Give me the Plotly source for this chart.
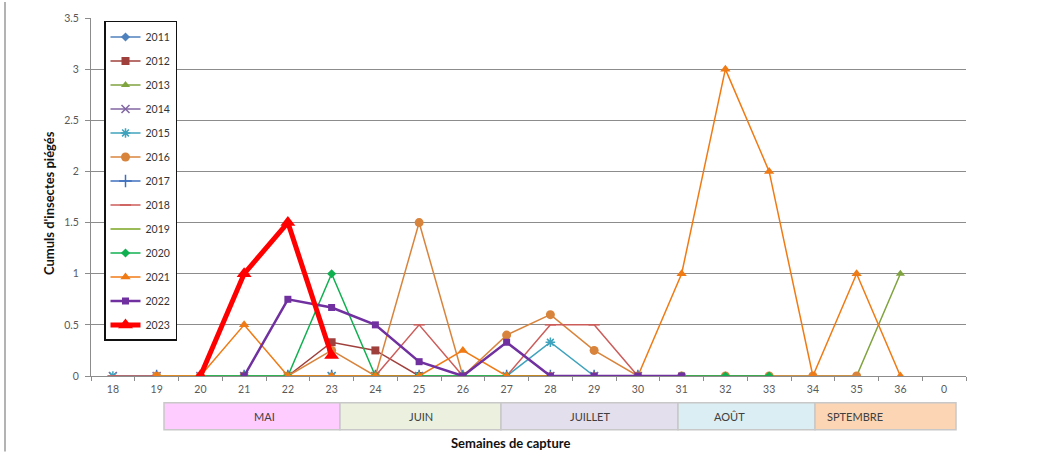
import plotly.graph_objects as go

weeks = ["18", "19", "20", "21", "22", "23", "24", "25", "26", "27",
         "28", "29", "30", "31", "32", "33", "34", "35", "36", "0"]
N = None
#            18 19 20 21 22 23 24 25 26 27 28 29 30 31 32 33 34 35 36 0
y2011 = [N, 0, 0, 0, 0, 0, 0, 0, 0, 0, 0, 0, 0, N, N, N, N, N, N, N]
y2012 = [N, N, N, N, 0, 0.33, 0.25, 0, 0, N, N, N, N, N, N, N, N, N, N, N]
y2013 = [N, 0, 0, 0, 0, 0, 0, 0, 0, 0, 0, 0, 0, 0, 0, 0, 0, 0, 1, N]
y2014 = [0, 0, 0, 0, 0, 0, 0, 0, 0, 0, 0, 0, 0, N, N, N, N, N, N, N]
y2015 = [0, 0, 0, 0, 0, 0, 0, 0, 0, 0, 0.33, 0, 0, N, N, N, N, N, N, N]
y2016 = [N, 0, 0, 0, 0, 0.25, 0, 1.5, 0, 0.4, 0.6, 0.25, 0, 0, 0, 0, 0, 0, N, N]
y2017 = [N, 0, 0, 0, 0, 0, 0, 0, 0, 0, 0, 0, 0, N, N, N, N, N, N, N]
y2018 = [0, 0, 0, 0, 0, 0, 0, 0.5, 0, 0, 0.5, 0.5, 0, N, N, N, N, N, N, N]
y2019 = [N, 0, 0, 0, 0, 0, 0, 0, 0, 0, 0, 0, 0, N, N, N, N, N, N, N]
y2020 = [N, N, 0, 0, 0, 1, 0, 0, 0, 0, 0, 0, 0, 0, 0, 0, N, N, N, N]
y2021 = [N, 0, 0, 0.5, 0, 0, 0, 0, 0.25, 0, 0, 0, 0, 1, 3, 2, 0, 1, 0, N]
y2022 = [N, N, N, 0, 0.75, 0.67, 0.5, 0.14, 0, 0.33, 0, 0, 0, 0, N, N, N, N, N, N]
y2023 = [N, N, 0, 1, 1.5, 0.2, N, N, N, N, N, N, N, N, N, N, N, N, N, N]

months = ["MAI", "JUIN", "JUILLET", "AOÛT", "SPTEMBRE"]
month_colors = ["#FFCCFF", "#EBF1DE", "#E4DFEC", "#DAEEF3", "#FCD5B4"]

series = [
    ("2011", y2011, "#4F81BD", "diamond", 7, 1.5),
    ("2012", y2012, "#A0403D", "square", 8, 1.5),
    ("2013", y2013, "#7FA33E", "triangle-up", 8, 1.5),
    ("2014", y2014, "#8064A2", "x-thin", 8, 1.5),
    ("2015", y2015, "#3FA3BD", "asterisk", 8, 1.5),
    ("2016", y2016, "#D9843C", "circle", 9, 1.5),
    ("2017", y2017, "#3E6FBF", "cross-thin", 9, 1.5),
    ("2018", y2018, "#CC5C5A", "line-ew", 8, 1.5),
    ("2019", y2019, "#9BBB59", None, 0, 2),
    ("2020", y2020, "#10B050", "diamond", 7, 1.5),
    ("2021", y2021, "#F07A14", "triangle-up", 9, 1.5),
    ("2022", y2022, "#7030A0", "square", 7, 2.5),
    ("2023", y2023, "#FF0000", "triangle-up", 13, 5),
]

fig = go.Figure()
for i, (name, ys, col, sym, size, lw) in enumerate(series):
    if sym is None:
        mode = "lines"
        marker = dict()
    else:
        mode = "lines+markers"
        thin = ("thin" in sym) or sym in ("asterisk", "line-ew")
        marker = dict(symbol=sym, size=size, color=col,
                      line=dict(color=col, width=1.5 if thin else 0))
    fig.add_trace(go.Scatter(
        x=weeks, y=ys, name=name, mode=mode, marker=marker,
        line=dict(color=col, width=lw), legendgroup=name,
        connectgaps=False,
    ))

L, R, T, B = 91, 83, 16, 76
W, H = 1049, 452
pw, ph = W - L - R, H - T - B

def px_x(p):
    return (p - L) / pw

def px_y(p):
    return (H - B - p) / ph

shapes = []
annotations = []
edges = [164, 340, 501, 678, 815, 956]
for i, m in enumerate(months):
    shapes.append(dict(type="rect", xref="paper", yref="paper",
                       x0=px_x(edges[i]), x1=px_x(edges[i + 1]),
                       y0=px_y(430), y1=px_y(403),
                       fillcolor=month_colors[i], line=dict(color="#C8C8C8", width=1.5),
                       layer="above"))
    annotations.append(dict(xref="paper", yref="paper",
                            x=(px_x(edges[i]) + px_x(edges[i + 1])) / 2,
                            y=px_y(417), yanchor="middle", text=m, showarrow=False,
                            font=dict(family="Lato", size=11, color="#404040")))

shapes.append(dict(type="line", xref="paper", yref="paper",
                   x0=px_x(5), x1=px_x(5), y0=px_y(0), y1=px_y(452),
                   line=dict(color="#9a9a9a", width=1.5)))

annotations.append(dict(xref="paper", yref="paper", x=px_x(510), y=px_y(433),
                        yanchor="top",
                        text="<b>Semaines de capture</b>", showarrow=False,
                        font=dict(family="Lato", size=13, color="#111111")))
annotations.append(dict(xref="paper", yref="paper", x=px_x(39), y=px_y(202),
                        xanchor="left",
                        text="<b>Cumuls d'insectes piégés</b>", showarrow=False,
                        textangle=-90,
                        font=dict(family="Lato", size=13, color="#111111")))

fig.update_layout(
    width=W, height=H,
    margin=dict(l=L, r=R, t=T, b=B),
    paper_bgcolor="white", plot_bgcolor="white",
    font=dict(family="Lato", size=10, color="#595959"),
    shapes=shapes, annotations=annotations,
    legend=dict(x=px_x(104), y=px_y(19), xanchor="left", yanchor="top",
                bordercolor="#111111", borderwidth=1.5, bgcolor="white",
                font=dict(family="Lato", size=10.5, color="#333333"),
                traceorder="grouped", tracegroupgap=5, itemwidth=30),
    xaxis=dict(type="category", categoryorder="array", categoryarray=weeks,
               showline=True, linecolor="#8c8c8c", linewidth=1,
               ticks="outside", tickson="boundaries", ticklen=4, tickcolor="#8c8c8c",
               showgrid=False, tickfont=dict(size=10.5, color="#595959"),
               ticklabelstandoff=3, range=[-0.5, 19.5]),
    yaxis=dict(range=[0, 3.5], dtick=0.5, showgrid=True, gridcolor="#8c8c8c",
               gridwidth=1, showline=True, linecolor="#8c8c8c",
               ticks="outside", ticklen=5, tickcolor="#8c8c8c",
               ticklabelstandoff=4,
               zeroline=False, tickfont=dict(size=10.5, color="#595959")),
)

fig.write_html("out.html", config={"displayModeBar": False},
               post_script="document.body.style.margin='0';document.body.style.overflow='hidden';")
